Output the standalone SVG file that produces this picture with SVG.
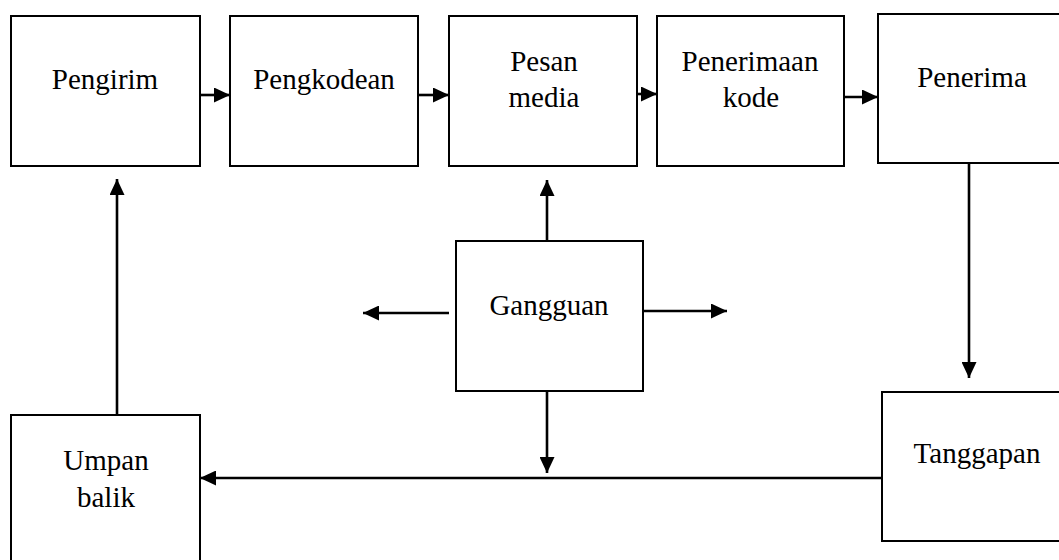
<svg xmlns="http://www.w3.org/2000/svg" width="1059" height="560" viewBox="0 0 1059 560">
  <style>
    .box { fill: #ffffff; stroke: #000000; stroke-width: 2; }
    .lbl { font-family: "Liberation Serif", "Times New Roman", serif; font-size: 29px; fill: #000000; text-anchor: middle; }
    .con { stroke: #000000; stroke-width: 2.6; fill: none; marker-end: url(#ah); }
  </style>
  <defs>
    <marker id="ah" markerUnits="userSpaceOnUse" markerWidth="16" markerHeight="15" refX="16" refY="7.5" orient="auto">
      <path d="M0,0 L16,7.5 L0,15 z" fill="#000000"/>
    </marker>
  </defs>
  <rect width="1059" height="560" fill="#ffffff"/>

  <g id="connectors">
    <line class="con" x1="200" y1="95" x2="230" y2="95"/>
    <line class="con" x1="418" y1="95" x2="449" y2="95"/>
    <line class="con" x1="637" y1="94" x2="657" y2="94"/>
    <line class="con" x1="844" y1="97" x2="878" y2="97"/>
    <line class="con" x1="969" y1="163" x2="969" y2="378"/>
    <line class="con" x1="882" y1="478" x2="200" y2="478"/>
    <line class="con" x1="117" y1="415" x2="117" y2="179"/>
    <line class="con" x1="547" y1="241" x2="547" y2="180"/>
    <line class="con" x1="547" y1="391" x2="547" y2="473"/>
    <line class="con" x1="449" y1="313" x2="363" y2="313"/>
    <line class="con" x1="644" y1="311" x2="727" y2="311"/>
  </g>

  <g id="pengirim">
    <rect class="box" x="11" y="16" width="189" height="150"/>
    <text class="lbl" x="105" y="89">Pengirim</text>
  </g>
  <g id="pengkodean">
    <rect class="box" x="230" y="16" width="188" height="150"/>
    <text class="lbl" x="324" y="89">Pengkodean</text>
  </g>
  <g id="pesan-media">
    <rect class="box" x="449" y="16" width="188" height="150"/>
    <text class="lbl" x="544" y="71">Pesan</text>
    <text class="lbl" x="544" y="107">media</text>
  </g>
  <g id="penerimaan-kode">
    <rect class="box" x="657" y="16" width="187" height="150"/>
    <text class="lbl" x="750" y="71">Penerimaan</text>
    <text class="lbl" x="751" y="107">kode</text>
  </g>
  <g id="penerima">
    <rect class="box" x="878" y="14" width="200" height="149"/>
    <text class="lbl" x="972" y="87">Penerima</text>
  </g>
  <g id="tanggapan">
    <rect class="box" x="882" y="392" width="200" height="149"/>
    <text class="lbl" x="977" y="463">Tanggapan</text>
  </g>
  <g id="umpan-balik">
    <rect class="box" x="11" y="415" width="189" height="160"/>
    <text class="lbl" x="106" y="470">Umpan</text>
    <text class="lbl" x="106" y="507">balik</text>
  </g>
  <g id="gangguan">
    <rect class="box" x="456" y="241" width="187" height="150"/>
    <text class="lbl" x="549" y="315">Gangguan</text>
  </g>
</svg>
